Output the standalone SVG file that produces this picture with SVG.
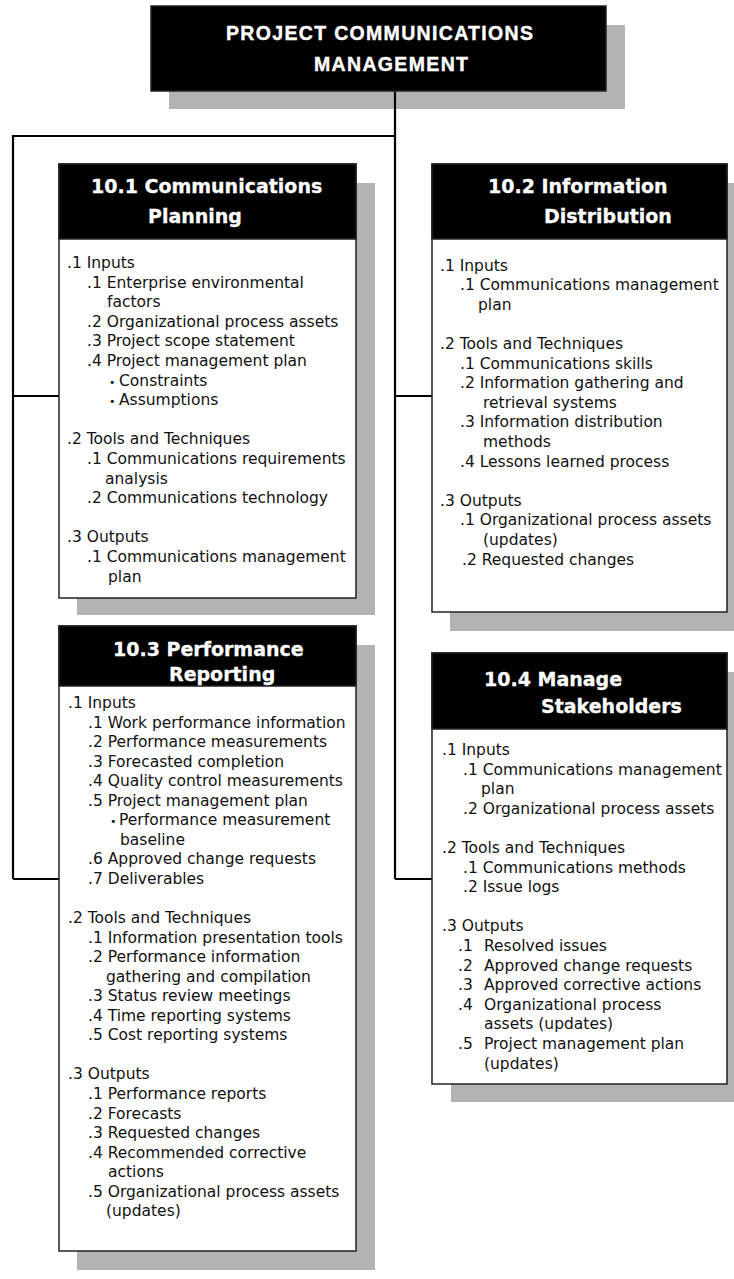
<svg xmlns="http://www.w3.org/2000/svg" width="734" height="1279" viewBox="0 0 734 1279">
<style>
.shadow{fill:#b3b3b3}
.hdr{fill:#000;stroke:#222;stroke-width:1.5}
.body{fill:#fff;stroke:#222;stroke-width:1.5}
.conn{fill:none;stroke:#000;stroke-width:2.2}
.title{font-family:"Liberation Sans Narrow","Liberation Sans",Arial,sans-serif;font-weight:bold;font-size:19.5px;fill:#fff;stroke:#fff;stroke-width:0.4}
.ht{font-family:"DejaVu Sans",sans-serif;font-weight:bold;font-size:19px;fill:#fff;stroke:#fff;stroke-width:0.3}
.t{font-family:"DejaVu Sans",sans-serif;font-size:15.5px;fill:#111}
.b{font-size:11px}
</style>
<rect width="734" height="1279" fill="#fff"/>
<g id="shadows">
<rect class="shadow" x="169" y="25" width="456" height="84"/>
<rect class="shadow" x="77" y="183" width="298" height="432"/>
<rect class="shadow" x="450" y="183" width="284" height="448"/>
<rect class="shadow" x="77" y="645" width="298" height="625"/>
<rect class="shadow" x="451" y="672" width="283" height="430"/>
</g>
<g id="connectors">
<path class="conn" d="M395,91 V879"/>
<path class="conn" d="M395,136 H13 V879"/>
<path class="conn" d="M13,396 H59 M395,396 H432"/>
<path class="conn" d="M13,879 H59 M395,879 H432"/>
</g>
<g id="root">
<rect class="hdr" x="151" y="6" width="455" height="85"/>
<text class="title" x="226" y="39.5" textLength="307" lengthAdjust="spacing">PROJECT COMMUNICATIONS</text>
<text class="title" x="314" y="70.5" textLength="154" lengthAdjust="spacing">MANAGEMENT</text>
</g>
<g id="n101">
<rect class="body" x="59" y="164" width="297" height="434"/>
<rect class="hdr" x="59" y="164" width="297" height="75"/>
<text class="ht" x="91" y="193">10.1 Communications</text>
<text class="ht" x="148" y="223">Planning</text>
<text class="t" x="67" y="268">.1 Inputs</text>
<text class="t" x="87" y="287.6">.1 Enterprise environmental</text>
<text class="t" x="107" y="307.2">factors</text>
<text class="t" x="87" y="326.8">.2 Organizational process assets</text>
<text class="t" x="87" y="346.4">.3 Project scope statement</text>
<text class="t" x="87" y="366">.4 Project management plan</text>
<text class="t" y="385.6"><tspan class="b" x="109">•</tspan><tspan x="119">Constraints</tspan></text>
<text class="t" y="405.2"><tspan class="b" x="109">•</tspan><tspan x="119">Assumptions</tspan></text>
<text class="t" x="67" y="444.4">.2 Tools and Techniques</text>
<text class="t" x="87" y="464">.1 Communications requirements</text>
<text class="t" x="105" y="483.6">analysis</text>
<text class="t" x="87" y="503.2">.2 Communications technology</text>
<text class="t" x="67" y="542.4">.3 Outputs</text>
<text class="t" x="87" y="562">.1 Communications management</text>
<text class="t" x="108" y="581.6">plan</text>
</g>
<g id="n102">
<rect class="body" x="432" y="164" width="295" height="448"/>
<rect class="hdr" x="432" y="164" width="295" height="75"/>
<text class="ht" x="488" y="193">10.2 Information</text>
<text class="ht" x="544" y="223">Distribution</text>
<text class="t" x="440" y="270.5">.1 Inputs</text>
<text class="t" x="460" y="290.1">.1 Communications management</text>
<text class="t" x="478" y="309.7">plan</text>
<text class="t" x="440" y="348.9">.2 Tools and Techniques</text>
<text class="t" x="460" y="368.5">.1 Communications skills</text>
<text class="t" x="460" y="388.1">.2 Information gathering and</text>
<text class="t" x="483" y="407.7">retrieval systems</text>
<text class="t" x="460" y="427.3">.3 Information distribution</text>
<text class="t" x="483" y="446.9">methods</text>
<text class="t" x="460" y="466.5">.4 Lessons learned process</text>
<text class="t" x="440" y="505.7">.3 Outputs</text>
<text class="t" x="460" y="525.3">.1 Organizational process assets</text>
<text class="t" x="483" y="544.9">(updates)</text>
<text class="t" x="462" y="564.5">.2 Requested changes</text>
</g>
<g id="n103">
<rect class="body" x="59" y="626" width="297" height="625"/>
<rect class="hdr" x="59" y="626" width="297" height="60"/>
<text class="ht" x="113" y="656">10.3 Performance</text>
<text class="ht" x="169" y="681">Reporting</text>
<text class="t" x="68" y="708">.1 Inputs</text>
<text class="t" x="88" y="727.55">.1 Work performance information</text>
<text class="t" x="88" y="747.1">.2 Performance measurements</text>
<text class="t" x="88" y="766.65">.3 Forecasted completion</text>
<text class="t" x="88" y="786.2">.4 Quality control measurements</text>
<text class="t" x="88" y="805.75">.5 Project management plan</text>
<text class="t" y="825.3"><tspan class="b" x="110">•</tspan><tspan x="119">Performance measurement</tspan></text>
<text class="t" x="120" y="844.85">baseline</text>
<text class="t" x="88" y="864.4">.6 Approved change requests</text>
<text class="t" x="88" y="883.95">.7 Deliverables</text>
<text class="t" x="68" y="923.05">.2 Tools and Techniques</text>
<text class="t" x="88" y="942.6">.1 Information presentation tools</text>
<text class="t" x="88" y="962.15">.2 Performance information</text>
<text class="t" x="106" y="981.7">gathering and compilation</text>
<text class="t" x="88" y="1001.25">.3 Status review meetings</text>
<text class="t" x="88" y="1020.8">.4 Time reporting systems</text>
<text class="t" x="88" y="1040.35">.5 Cost reporting systems</text>
<text class="t" x="68" y="1079.45">.3 Outputs</text>
<text class="t" x="88" y="1099">.1 Performance reports</text>
<text class="t" x="88" y="1118.55">.2 Forecasts</text>
<text class="t" x="88" y="1138.1">.3 Requested changes</text>
<text class="t" x="88" y="1157.65">.4 Recommended corrective</text>
<text class="t" x="108" y="1177.2">actions</text>
<text class="t" x="88" y="1196.75">.5 Organizational process assets</text>
<text class="t" x="106" y="1216.3">(updates)</text>
</g>
<g id="n104">
<rect class="body" x="432" y="653" width="295" height="431"/>
<rect class="hdr" x="432" y="653" width="295" height="76"/>
<text class="ht" x="484" y="686">10.4 Manage</text>
<text class="ht" x="541" y="713">Stakeholders</text>
<text class="t" x="442" y="755">.1 Inputs</text>
<text class="t" x="463" y="774.6">.1 Communications management</text>
<text class="t" x="481" y="794.2">plan</text>
<text class="t" x="463" y="813.8">.2 Organizational process assets</text>
<text class="t" x="442" y="853">.2 Tools and Techniques</text>
<text class="t" x="463" y="872.6">.1 Communications methods</text>
<text class="t" x="463" y="892.2">.2 Issue logs</text>
<text class="t" x="442" y="931.4">.3 Outputs</text>
<text class="t" y="951"><tspan x="458">.1</tspan><tspan x="484">Resolved issues</tspan></text>
<text class="t" y="970.6"><tspan x="458">.2</tspan><tspan x="484">Approved change requests</tspan></text>
<text class="t" y="990.2"><tspan x="458">.3</tspan><tspan x="484">Approved corrective actions</tspan></text>
<text class="t" y="1009.8"><tspan x="458">.4</tspan><tspan x="484">Organizational process</tspan></text>
<text class="t" x="484" y="1029.4">assets (updates)</text>
<text class="t" y="1049"><tspan x="458">.5</tspan><tspan x="484">Project management plan</tspan></text>
<text class="t" x="484" y="1068.6">(updates)</text>
</g>
</svg>
